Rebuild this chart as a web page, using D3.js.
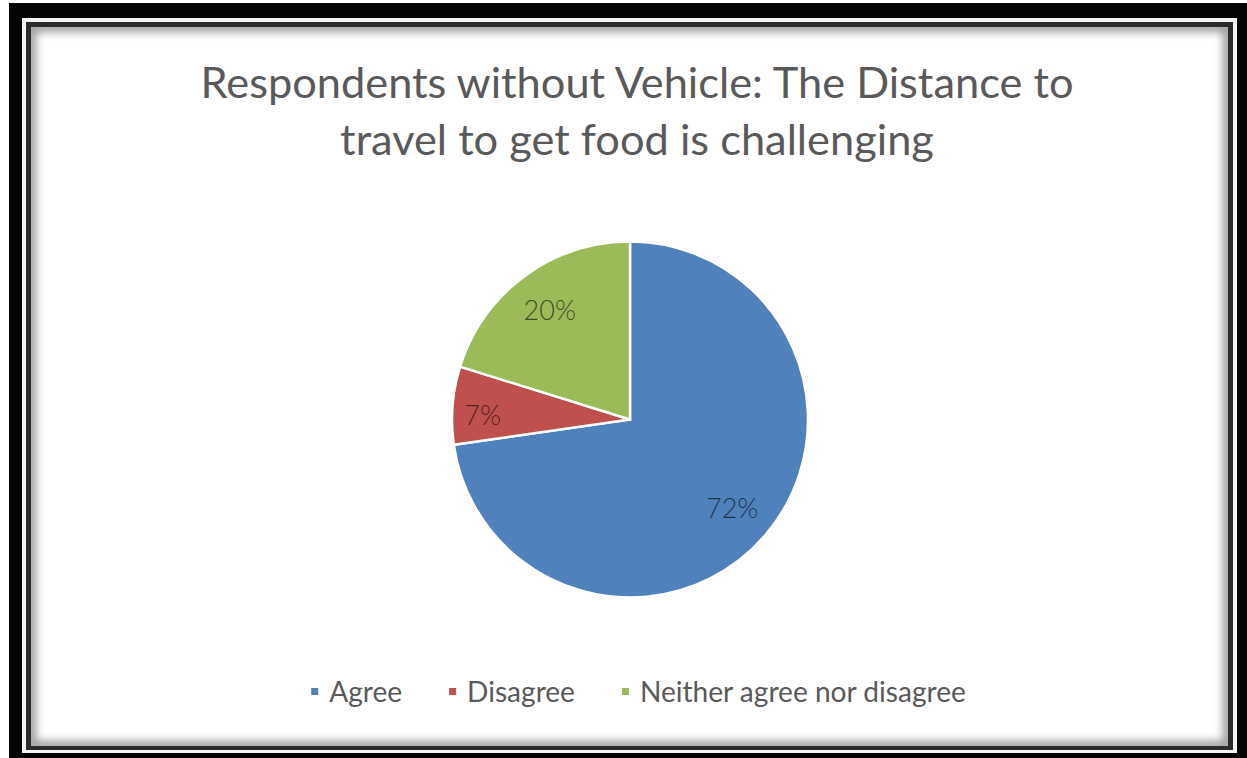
<!DOCTYPE html>
<html>
<head>
<meta charset="utf-8">
<script src="https://cdn.jsdelivr.net/npm/d3@7"></script>
<style>
  html, body { margin: 0; padding: 0; background: #fff; }
  svg { display: block; }
  text { font-family: Lato, "Open Sans", sans-serif; }
</style>
</head>
<body>
<svg id="chart" width="1247" height="758"></svg>
<script>
// Survey answers and their shares (percent)
const categories = ["Agree", "Disagree", "Neither agree nor disagree"];
const values = [72, 7, 20];
const colors = ["#4F81BD", "#C0504D", "#9BBB59"];
const titleLines = ["Respondents without Vehicle: The Distance to", "travel to get food is challenging"];

const W = 1247, H = 758;
const svg = d3.select("#chart");
const defs = svg.append("defs");

// ---- picture frame -------------------------------------------------------
svg.append("rect").attr("width", W).attr("height", H).attr("fill", "#fff");
// thick black outer band
svg.append("path")
  .attr("fill-rule", "evenodd")
  .attr("fill", "#050505")
  .attr("d", `M9,3H${W}V${H}H9Z M22,18H1237V753H22Z`);
// thin white gap
svg.append("path")
  .attr("fill-rule", "evenodd")
  .attr("fill", "#f4f4f4")
  .attr("d", `M22,18H1237V753H22Z M26,22H1233V750H26Z`);
// dark inner line
svg.append("path")
  .attr("fill-rule", "evenodd")
  .attr("fill", "#2b2b2b")
  .attr("d", `M26,22H1233V750H26Z M31,27H1228V746H31Z`);

// soft inner shading along the frame
const blur = defs.append("filter").attr("id", "soft")
  .attr("x", "-5%").attr("y", "-5%").attr("width", "110%").attr("height", "110%");
blur.append("feGaussianBlur").attr("stdDeviation", 4);
defs.append("clipPath").attr("id", "inner")
  .append("rect").attr("x", 31).attr("y", 27).attr("width", 1197).attr("height", 719);
svg.append("g").attr("clip-path", "url(#inner)")
  .append("rect")
  .attr("x", 31).attr("y", 27).attr("width", 1197).attr("height", 719)
  .attr("fill", "none").attr("stroke", "#9a9a9a").attr("stroke-width", 10)
  .attr("filter", "url(#soft)");

// ---- title ---------------------------------------------------------------
const titleG = svg.append("g").attr("fill", "#595959");
const t1 = titleG.append("text").attr("x", 637).attr("y", 98)
  .attr("text-anchor", "middle").attr("font-size", 40).text(titleLines[0]);
const titleSize = 40 * 873 / t1.node().getComputedTextLength();
t1.attr("font-size", titleSize);
titleG.append("text").attr("x", 637).attr("y", 155)
  .attr("text-anchor", "middle").attr("font-size", titleSize).text(titleLines[1]);

// ---- pie -----------------------------------------------------------------
const cx = 630, cy = 419.5, R = 178;
const color = d3.scaleOrdinal().domain(categories).range(colors);
const pie = d3.pie().sort(null).value(d => d.value);
const data = categories.map((c, i) => ({ category: c, value: values[i] }));
const arcs = pie(data);
const arc = d3.arc().innerRadius(0).outerRadius(R);

const pieG = svg.append("g").attr("transform", `translate(${cx},${cy})`);
pieG.selectAll("path.slice")
  .data(arcs)
  .join("path")
  .attr("class", "slice")
  .attr("d", arc)
  .attr("fill", d => color(d.data.category))
  .attr("stroke", "#fff")
  .attr("stroke-width", 2.5)
  .attr("stroke-linejoin", "miter");

// data labels: inside each slice, thin slices pushed a bit further out
const labelArc = d3.arc().innerRadius(R * 0.76).outerRadius(R * 0.76);
const thinArc = d3.arc().innerRadius(R * 0.83).outerRadius(R * 0.83);
const total = d3.sum(values);
pieG.selectAll("text.label")
  .data(arcs)
  .join("text")
  .attr("class", "label")
  .attr("transform", d => {
    const a = (d.data.value / total < 0.1 ? thinArc : labelArc).centroid(d);
    return `translate(${a[0]},${a[1] + (d.data.value / total < 0.1 ? 8 : 0)})`;
  })
  .attr("text-anchor", "middle")
  .attr("dy", "0.35em")
  .attr("font-size", 27)
  .attr("font-weight", 300)
  .attr("fill", "#000")
  .attr("fill-opacity", 0.62)
  .text(d => d3.format(".0f")(d.data.value) + "%");

// ---- legend --------------------------------------------------------------
const legendG = svg.append("g");
const probe = legendG.append("text").attr("font-size", 30).text(categories[2]);
const legendSize = 30 * 326 / probe.node().getComputedTextLength();
probe.remove();

const markerGap = 18, itemGap = 47, markerSize = 7;
const items = legendG.selectAll("g.item")
  .data(categories)
  .join("g")
  .attr("class", "item");
items.append("rect")
  .attr("width", markerSize).attr("height", markerSize)
  .attr("y", -markerSize / 2 - 0.5)
  .attr("fill", d => color(d));
items.append("text")
  .attr("x", markerGap)
  .attr("dy", "0.35em")
  .attr("font-size", legendSize)
  .attr("fill", "#595959")
  .text(d => d);

let xPos = 0;
const offsets = [];
items.each(function () {
  offsets.push(xPos);
  const w = markerGap + d3.select(this).select("text").node().getComputedTextLength();
  xPos += w + itemGap;
});
const legendWidth = xPos - itemGap;
const legendX = 638.5 - legendWidth / 2;
items.attr("transform", (d, i) => `translate(${legendX + offsets[i]},692)`);
</script>
</body>
</html>
